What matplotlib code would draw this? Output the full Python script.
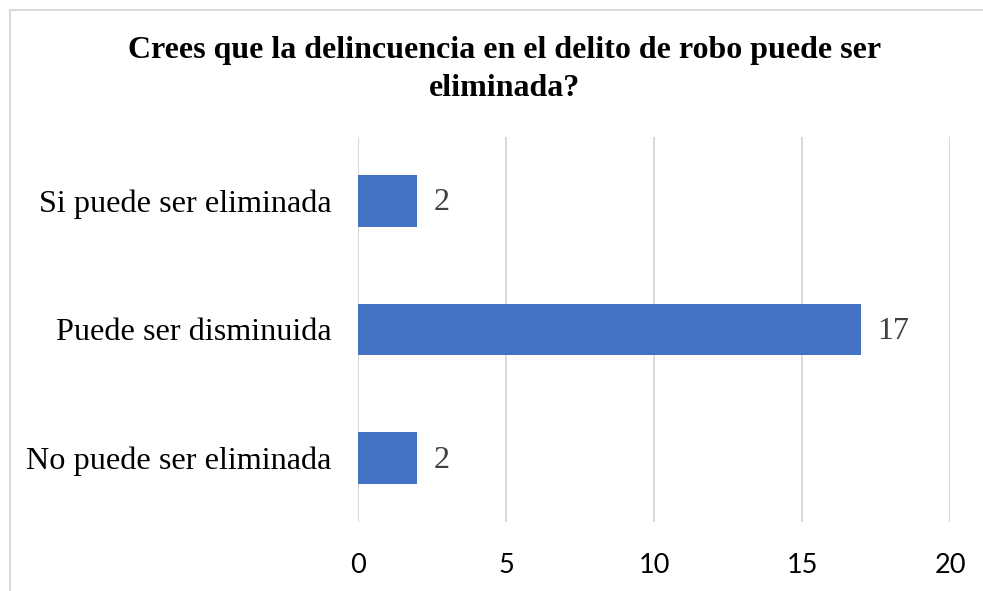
import matplotlib
matplotlib.use("Agg")
import matplotlib.pyplot as plt
from matplotlib.lines import Line2D

categories = ["No puede ser eliminada", "Puede ser disminuida", "Si puede ser eliminada"]
values = [2, 17, 2]
xticks = [0, 5, 10, 15, 20]
title = "Crees que la delincuencia en el delito de robo puede ser\neliminada?"

fig = plt.figure(figsize=(9.83, 5.91), dpi=100)
ax = fig.add_axes([358/983, 1-522.25/591, (950-358)/983, (522.25-136.75)/591])

ax.barh(range(len(categories)), values, height=0.4, color="#4472C4", zorder=3)
ax.set_xlim(0, 20)
ax.set_ylim(-0.5, 2.5)
ax.set_xticks(xticks)
ax.set_xticklabels([str(t) for t in xticks], family="Lato", fontsize=19.5)
ax.set_yticks(range(len(categories)))
ax.set_yticklabels(categories, family="Liberation Serif", fontsize=23.2)
ax.tick_params(axis="both", length=0)
ax.tick_params(axis="y", pad=19)
ax.tick_params(axis="x", pad=22)
ax.xaxis.grid(True, color="#D9D9D9", linewidth=1.5, zorder=0)
for s in ax.spines.values():
    s.set_visible(False)

for i, v in enumerate(values):
    ax.annotate(str(v), (v, i), xytext=(16, -2), textcoords="offset pixels",
                va="center", ha="left", family="Liberation Serif",
                fontsize=23, color="#404040")

fig.text(505/983, 1-96/591, title, ha="center", va="baseline",
         family="Liberation Serif", fontweight="bold", fontsize=23,
         linespacing=1.4)

# chart border (top and left visible)
fig.add_artist(Line2D([10/983, 1], [1-10/591, 1-10/591], color="#D9D9D9", lw=1.5))
fig.add_artist(Line2D([10/983, 10/983], [0, 1-10/591], color="#D9D9D9", lw=1.5))

fig.savefig("out.png", dpi=100)
